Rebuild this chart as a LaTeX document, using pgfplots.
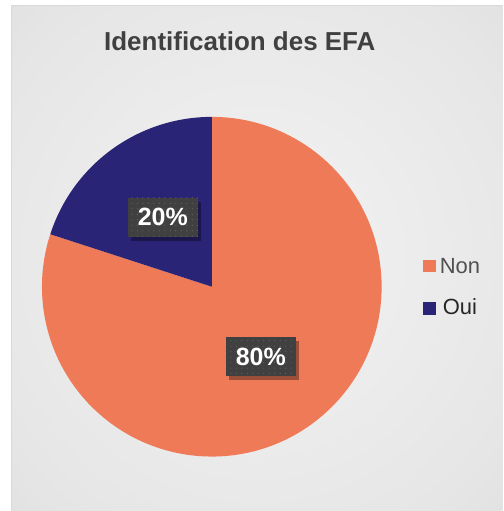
\documentclass[border=0pt]{standalone}
\usepackage{pgfplots}
\pgfplotsset{compat=1.18}
\usepackage{pgfplotstable}
\usepackage{fontspec}
\setmainfont{Liberation Sans}
\usetikzlibrary{shadows,patterns.meta}

\definecolor{nonc}{HTML}{EF7A58}
\definecolor{ouic}{HTML}{2A2476}
\definecolor{lbl}{HTML}{404040}
\definecolor{legtxt}{HTML}{505050}
\definecolor{bgin}{HTML}{F3F3F3}
\definecolor{bgmid}{HTML}{E6E6E6}
\definecolor{bgout}{HTML}{C8C8C8}
\pgfdeclareradialshading{chartbg}{\pgfpoint{0bp}{0bp}}%
  {color(0bp)=(bgin); color(30bp)=(bgmid); color(71bp)=(bgout)}

% pie values (percent)
\pgfplotstableread{
label value
Non 80
Oui 20
}\piedata

\tikzset{pielbl/.style={fill=lbl, text=white,
    font=\fontsize{25bp}{30bp}\selectfont\bfseries,
    minimum width=70bp, minimum height=39bp, inner sep=0pt,
    drop shadow={shadow xshift=3bp, shadow yshift=-4bp, opacity=0.35, fill=black},
    postaction={pattern={Dots[distance=5.5bp, radius=0.6bp]}, pattern color=gray!60!lbl}}}

\begin{document}
\begin{tikzpicture}
\pgfplotstablegetelem{0}{value}\of\piedata \let\vnon\pgfplotsretval
\pgfplotstablegetelem{1}{value}\of\piedata \let\voui\pgfplotsretval
\pgfmathsetmacro\anon{90-3.6*\vnon}
\pgfmathsetmacro\aoui{\anon-3.6*\voui}
\begin{axis}[x=1bp, y=1bp, xmin=0, xmax=503, ymin=0, ymax=511,
  scale only axis, hide axis, clip=false]

% background
\fill[white] (axis cs:0,0) rectangle (axis cs:503,511);
\shade[shading=chartbg] (axis cs:12,0) rectangle (axis cs:503,505);
\draw[gray!30, line width=1bp] (axis cs:12,0) -- (axis cs:12,505) -- (axis cs:503,505);

% slices
\fill[nonc] (axis cs:212,224) -- ++(90:170bp)
  arc[start angle=90, end angle=\anon, radius=170bp] -- cycle;
\fill[ouic] (axis cs:212,224) -- ++(\anon:170bp)
  arc[start angle=\anon, end angle=\aoui, radius=170bp] -- cycle;

% data labels
\node[pielbl] at (axis cs:163,293.5) {\voui\%};
\node[pielbl] at (axis cs:261,154) {\vnon\%};

% title
\node[anchor=base, text=lbl, font=\fontsize{26bp}{31bp}\selectfont\bfseries]
  at (axis cs:240,460) {Identification des EFA};

% legend
\fill[nonc] (axis cs:423,239) rectangle (axis cs:436,251);
\fill[ouic] (axis cs:423,196) rectangle (axis cs:436,209);
\node[anchor=base west, inner sep=0pt, text=legtxt, font=\fontsize{22bp}{26bp}\selectfont]
  at (axis cs:440,237) {Non};
\node[anchor=base west, inner sep=0pt, text=black!85, font=\fontsize{22bp}{26bp}\selectfont]
  at (axis cs:443,196) {Oui};
\end{axis}
\end{tikzpicture}
\end{document}
